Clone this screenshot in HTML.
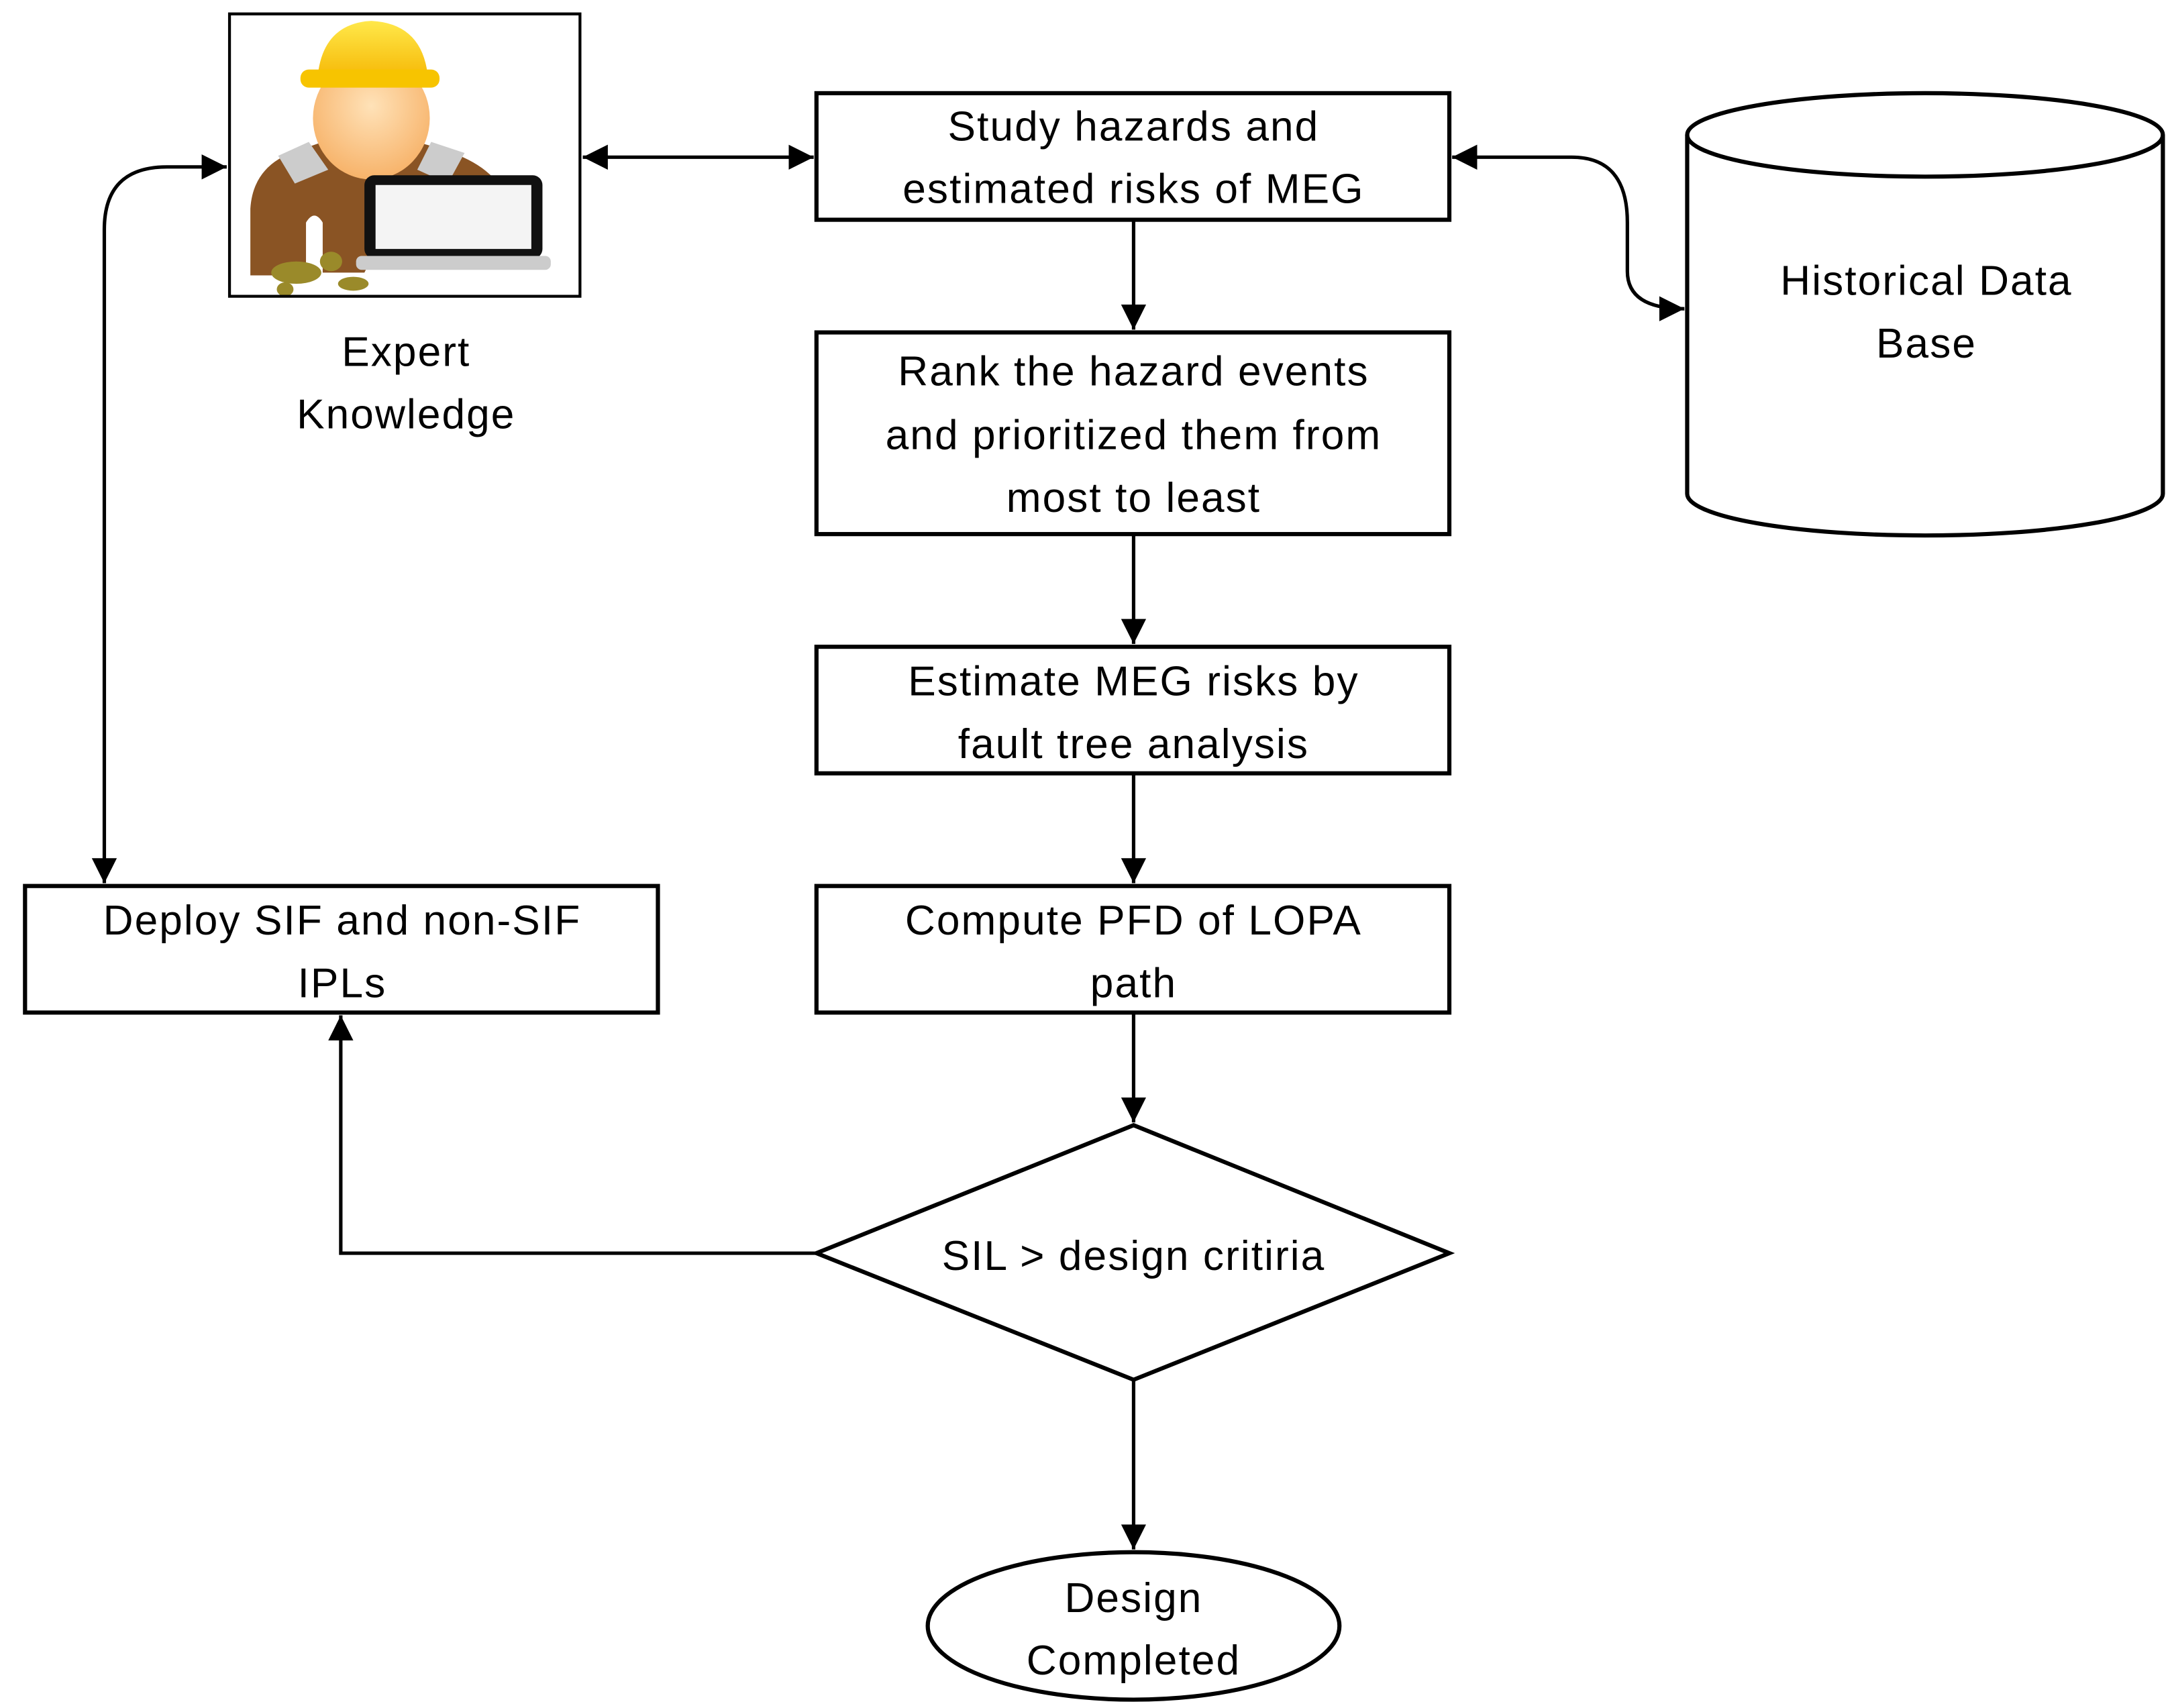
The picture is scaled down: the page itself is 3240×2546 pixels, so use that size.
<!DOCTYPE html>
<html><head><meta charset="utf-8"><style>
html,body{margin:0;padding:0;background:#fff}
svg{display:block}
text{font-family:"Liberation Sans",sans-serif;font-size:30px;fill:#000;text-anchor:middle;letter-spacing:1px}
</style></head><body>
<svg width="3240" height="2546" viewBox="0 0 1563 1228" preserveAspectRatio="none" xmlns="http://www.w3.org/2000/svg">
<defs>
<marker id="a" viewBox="0 0 10 10" refX="10" refY="5" markerWidth="18" markerHeight="20" markerUnits="userSpaceOnUse" orient="auto-start-reverse"><path d="M0,0 L10,5 L0,10 z" fill="#000"/></marker>
<linearGradient id="hat" x1="0" y1="0" x2="0" y2="1"><stop offset="0" stop-color="#ffe84a"/><stop offset="1" stop-color="#f5b400"/></linearGradient>
<radialGradient id="face" cx="0.5" cy="0.4" r="0.6"><stop offset="0" stop-color="#ffe2b8"/><stop offset="1" stop-color="#f7b36a"/></radialGradient>
</defs>
<g fill="none" stroke="#000">
<rect x="165" y="10" width="252" height="203" stroke-width="2" fill="#fff"/>
<!-- person -->
<path d="M180,198 L180,150 Q182,118 215,108 L232,102 L300,102 L320,108 Q350,118 360,135 L290,140 L262,196 L232,196 L232,160 Q226,150 220,160 L220,198 Z" fill="#8a5424" stroke="none"/>
<path d="M200,112 L222,102 L236,122 L212,132 Z M310,102 L334,110 L322,132 L300,122 Z" fill="#ccc" stroke="none"/>
<ellipse cx="267" cy="85" rx="42" ry="44" fill="url(#face)" stroke="none"/>
<path d="M228,60 Q230,17 267,15 Q306,17 308,60 Z" fill="url(#hat)" stroke="none"/>
<rect x="216" y="50" width="100" height="13" rx="6" fill="#f7c400" stroke="none"/>
<rect x="262" y="126" width="128" height="60" rx="7" fill="#111" stroke="none"/>
<rect x="270" y="133" width="112" height="46" fill="#f4f4f4" stroke="none"/>
<rect x="256" y="184" width="140" height="10" rx="4" fill="#ccc" stroke="none"/>
<ellipse cx="213" cy="196" rx="18" ry="8" fill="#9a8a2a" stroke="none"/>
<ellipse cx="238" cy="188" rx="8" ry="7" fill="#9a8a2a" stroke="none"/>
<ellipse cx="254" cy="204" rx="11" ry="5" fill="#9a8a2a" stroke="none"/>
<ellipse cx="205" cy="208" rx="6" ry="5" fill="#9a8a2a" stroke="none"/>
<rect x="165" y="10" width="252" height="203" stroke-width="2"/>
<!-- boxes -->
<rect x="587" y="67" width="455" height="91" stroke-width="3"/>
<rect x="587" y="239" width="455" height="145" stroke-width="3"/>
<rect x="587" y="465" width="455" height="91" stroke-width="3"/>
<rect x="587" y="637" width="455" height="91" stroke-width="3"/>
<rect x="18" y="637" width="455" height="91" stroke-width="3"/>
<path d="M587,901 L815,809 L1042,901 L815,992 Z" stroke-width="3"/>
<ellipse cx="815" cy="1169" rx="148" ry="53" stroke-width="3"/>
<!-- cylinder -->
<path d="M1213,97 L1213,355 A171,30 0 0 0 1555,355 L1555,97" stroke-width="3"/>
<ellipse cx="1384" cy="97" rx="171" ry="30" stroke-width="3"/>
<g stroke-width="2.5">
<path d="M419,113 L585,113" marker-start="url(#a)" marker-end="url(#a)"/>
<path d="M1044,113 L1130,113 Q1170,113 1170,160 L1170,195 Q1170,222 1211,222" marker-start="url(#a)" marker-end="url(#a)"/>
<path d="M163,120 L120,120 Q75,120 75,165 L75,635" marker-start="url(#a)" marker-end="url(#a)"/>
<path d="M815,158 L815,237" marker-end="url(#a)"/>
<path d="M815,384 L815,463" marker-end="url(#a)"/>
<path d="M815,556 L815,635" marker-end="url(#a)"/>
<path d="M815,728 L815,807" marker-end="url(#a)"/>
<path d="M815,992 L815,1114" marker-end="url(#a)"/>
<path d="M587,901 L245,901 L245,730" marker-end="url(#a)"/>
</g>
</g>
<text x="292" y="263">Expert</text>
<text x="292" y="308">Knowledge</text>
<text x="815" y="101">Study hazards and</text>
<text x="815" y="146">estimated risks of MEG</text>
<text x="815" y="277">Rank the hazard events</text>
<text x="815" y="323">and prioritized them from</text>
<text x="815" y="368">most to least</text>
<text x="815" y="500">Estimate MEG risks by</text>
<text x="815" y="545">fault tree analysis</text>
<text x="815" y="672">Compute PFD of LOPA</text>
<text x="815" y="717">path</text>
<text x="246" y="672">Deploy SIF and non-SIF</text>
<text x="246" y="717">IPLs</text>
<text x="815" y="913">SIL &gt; design critiria</text>
<text x="815" y="1159">Design</text>
<text x="815" y="1204">Completed</text>
<text x="1385" y="212">Historical Data</text>
<text x="1385" y="257">Base</text>
</svg>
</body></html>
